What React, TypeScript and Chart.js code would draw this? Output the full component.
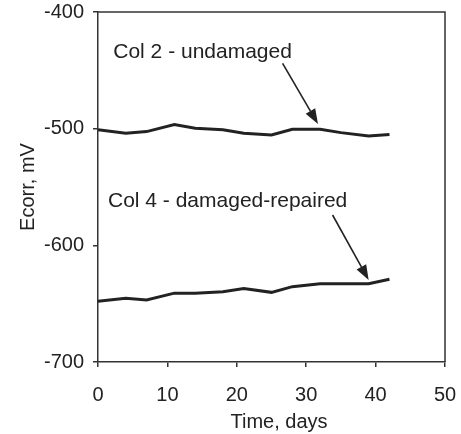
import React, { useEffect, useRef } from "react";
import { Chart, registerables } from "chart.js";

Chart.register(...registerables);

const days = [0, 4, 7, 11, 14, 18, 21, 25, 28, 32, 35, 39, 42];
const col2Undamaged = [-501, -504, -502.5, -496.5, -499.7, -501, -504, -505.4, -500.6, -500.6, -503.4, -506.3, -505];
const col4Repaired = [-648, -645.4, -646.9, -641, -641, -639.7, -637, -640.3, -635.4, -633, -633, -633, -629];
const xTicks = [0, 10, 20, 30, 40, 50];
const yTicks = [-700, -600, -500, -400];
const seriesNames = ["Col 2 - undamaged", "Col 4 - damaged-repaired"];
// annotation anchors in data units: [textX, textY, arrowStartX, arrowStartY, arrowTipX, arrowTipY]
const annotCol2 = [2.2, -439.4, 26.6, -444, 31.7, -496];
const annotCol4 = [1.44, -567, 33.8, -574, 39.0, -629.7];
const xTitle = "Time, days";
const yTitle = "Ecorr, mV";

const INK = "#222";
const FONT = "'Liberation Sans', Arial, sans-serif";

const annotationPlugin = {
  id: "annots",
  afterDraw(chart: any) {
    const { ctx, chartArea, scales } = chart;
    const xs = scales.x;
    const ys = scales.y;
    ctx.save();
    // top and right border of box
    ctx.strokeStyle = "#333";
    ctx.lineWidth = 1.5;
    ctx.beginPath();
    ctx.moveTo(chartArea.left, chartArea.top);
    ctx.lineTo(chartArea.right, chartArea.top);
    ctx.lineTo(chartArea.right, chartArea.bottom);
    ctx.stroke();

    const anns = [annotCol2, annotCol4];
    anns.forEach((a, i) => {
      ctx.fillStyle = INK;
      ctx.font = `21px ${FONT}`;
      ctx.textAlign = "left";
      ctx.textBaseline = "alphabetic";
      ctx.fillText(seriesNames[i], xs.getPixelForValue(a[0]), ys.getPixelForValue(a[1]));
      const x1 = xs.getPixelForValue(a[2]);
      const y1 = ys.getPixelForValue(a[3]);
      const x2 = xs.getPixelForValue(a[4]);
      const y2 = ys.getPixelForValue(a[5]);
      const ang = Math.atan2(y2 - y1, x2 - x1);
      const headLen = 15;
      const headW = 5.5;
      const bx = x2 - headLen * Math.cos(ang);
      const by = y2 - headLen * Math.sin(ang);
      ctx.strokeStyle = INK;
      ctx.lineWidth = 1.6;
      ctx.beginPath();
      ctx.moveTo(x1, y1);
      ctx.lineTo(bx, by);
      ctx.stroke();
      ctx.beginPath();
      ctx.moveTo(x2, y2);
      ctx.lineTo(bx + headW * Math.sin(ang), by - headW * Math.cos(ang));
      ctx.lineTo(bx - headW * Math.sin(ang), by + headW * Math.cos(ang));
      ctx.closePath();
      ctx.fill();
    });

    // axis titles
    ctx.fillStyle = INK;
    ctx.font = `20px ${FONT}`;
    ctx.textAlign = "center";
    ctx.textBaseline = "alphabetic";
    ctx.fillText(xTitle, 279, 428);
    ctx.save();
    ctx.translate(34, (chartArea.top + chartArea.bottom) / 2);
    ctx.rotate(-Math.PI / 2);
    ctx.fillText(yTitle, 0, 0);
    ctx.restore();
    ctx.restore();
  },
};

const zeroPad = (s: any) => {
  s.paddingLeft = 0;
  s.paddingRight = 0;
  s.paddingTop = 0;
  s.paddingBottom = 0;
};

export default function App() {
  const ref = useRef<HTMLCanvasElement | null>(null);
  useEffect(() => {
    if (!ref.current) return;
    const chart = new Chart(ref.current, {
      type: "line",
      data: {
        datasets: [
          {
            label: seriesNames[0],
            data: days.map((d, i) => ({ x: d, y: col2Undamaged[i] })),
            borderColor: INK,
            borderWidth: 3,
            pointRadius: 0,
            tension: 0,
            fill: false,
          },
          {
            label: seriesNames[1],
            data: days.map((d, i) => ({ x: d, y: col4Repaired[i] })),
            borderColor: INK,
            borderWidth: 3,
            pointRadius: 0,
            tension: 0,
            fill: false,
          },
        ],
      },
      options: {
        animation: false,
        responsive: false,
        maintainAspectRatio: false,
        layout: { padding: { top: 12, right: 16, left: 0, bottom: 0 } },
        plugins: { legend: { display: false }, tooltip: { enabled: false } },
        scales: {
          x: {
            type: "linear",
            min: 0,
            max: 50,
            afterBuildTicks: (s: any) => {
              s.ticks = xTicks.map((v) => ({ value: v }));
            },
            afterFit: (s: any) => {
              s.height = 72;
              zeroPad(s);
            },
            ticks: { color: INK, font: { size: 20, family: FONT }, padding: 16, maxRotation: 0 },
            grid: { drawOnChartArea: false, drawTicks: true, tickLength: 5, color: "#333", lineWidth: 1.5 },
            border: { display: true, color: "#333", width: 1.5 },
          },
          y: {
            type: "linear",
            min: -700,
            max: -400,
            afterBuildTicks: (s: any) => {
              s.ticks = yTicks.map((v) => ({ value: v }));
            },
            afterFit: (s: any) => {
              s.width = 98;
              zeroPad(s);
            },
            ticks: { color: INK, font: { size: 20, family: FONT }, padding: 9 },
            grid: { drawOnChartArea: false, drawTicks: true, tickLength: 5, color: "#333", lineWidth: 1.5 },
            border: { display: true, color: "#333", width: 1.5 },
          },
        },
      },
      plugins: [annotationPlugin],
    });
    return () => chart.destroy();
  }, []);
  return (
    <div style={{ position: "fixed", left: 0, top: 0, width: 461, height: 434, background: "#fff" }}>
      <canvas ref={ref} width={461} height={434} style={{ width: 461, height: 434, display: "block" }} />
    </div>
  );
}
